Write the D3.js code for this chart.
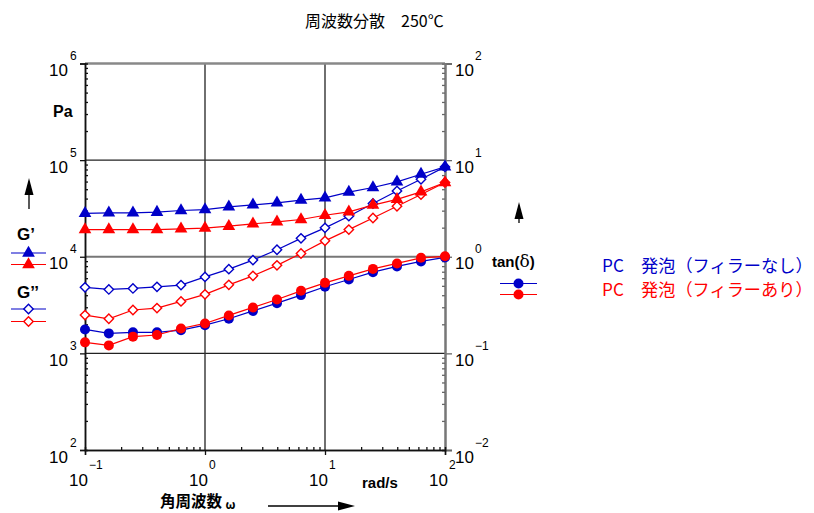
<!DOCTYPE html>
<html>
<head>
<meta charset="utf-8">
<script src="https://cdn.jsdelivr.net/npm/d3@7"></script>
<style>
  body { margin: 0; background: #fff; }
  svg text { font-family: "Liberation Sans", Arial, sans-serif; }
  .jp { font-family: "Noto Sans CJK JP", sans-serif; }
</style>
</head>
<body>
<svg id="chart" width="814" height="513"></svg>
<script>
// angular frequency (rad/s), 5 points per decade
const omega = [0.1, 0.158, 0.251, 0.398, 0.631, 1, 1.58, 2.51, 3.98, 6.31, 10, 15.8, 25.1, 39.8, 63.1, 100];

// PC foam, no filler (blue)
const gp_blue  = [2.81e4, 2.84e4, 2.84e4, 2.89e4, 3.01e4, 3.08e4, 3.28e4, 3.44e4, 3.61e4, 3.85e4, 4.06e4, 4.66e4, 5.21e4, 5.96e4, 7.15e4, 8.51e4];
const gpp_blue = [4.82e3, 4.59e3, 4.70e3, 4.88e3, 5.09e3, 6.19e3, 7.44e3, 9.23e3, 1.18e4, 1.55e4, 1.99e4, 2.63e4, 3.56e4, 4.80e4, 6.34e4, 8.51e4];
const tan_blue = [0.177, 0.161, 0.165, 0.165, 0.174, 0.196, 0.228, 0.275, 0.331, 0.401, 0.489, 0.582, 0.693, 0.794, 0.894, 0.984];

// PC foam, with filler (red)
const gp_red   = [1.91e4, 1.91e4, 1.91e4, 1.91e4, 1.94e4, 1.98e4, 2.07e4, 2.19e4, 2.30e4, 2.43e4, 2.69e4, 2.91e4, 3.42e4, 3.92e4, 4.69e4, 5.86e4];
const gpp_red  = [2.49e3, 2.28e3, 2.81e3, 2.94e3, 3.45e3, 4.08e3, 5.12e3, 6.34e3, 8.15e3, 1.08e4, 1.46e4, 1.91e4, 2.52e4, 3.33e4, 4.41e4, 5.86e4];
const tan_red  = [0.130, 0.121, 0.149, 0.155, 0.181, 0.204, 0.247, 0.299, 0.361, 0.444, 0.537, 0.634, 0.749, 0.853, 0.975, 1.01];

const xDecades = [-1, 0, 1, 2];
const yLeftDecades = [2, 3, 4, 5, 6];
const yRightDecades = [-2, -1, 0, 1, 2];

const legendNames = ["PC\u3000発泡（フィラーなし）", "PC\u3000発泡（フィラーあり）"];
const BLUE = "#0000c8", RED = "#ff0000";

const svg = d3.select("#chart");
const L = 85, R = 445, T = 63.5, B = 450;

let x = d3.scaleLog().domain([0.1, 100]).range([L, R]);
let yL = d3.scaleLog().domain([1e2, 1e6]).range([B, T]);
let yR = d3.scaleLog().domain([1e-2, 1e2]).range([B, T]);

// minor tick values
function minors(lo, hi) {
    let out = [];
    for (let d = lo; d < hi; d++) for (let m = 2; m <= 9; m++) out.push(m * Math.pow(10, d));
    return out;
}

// grid lines
let grid = svg.append("g");
[1e3, 1e4, 1e5].forEach(v => {
    grid.append("line").attr("x1", L).attr("x2", R).attr("y1", yL(v)).attr("y2", yL(v))
        .attr("stroke", v === 1e4 ? "#777" : "#222").attr("stroke-width", v === 1e4 ? 2 : 1.4);
});
[1, 10].forEach(v => {
    grid.append("line").attr("x1", x(v)).attr("x2", x(v)).attr("y1", T).attr("y2", B)
        .attr("stroke", "#333").attr("stroke-width", 1.4);
});
// top frame
grid.append("line").attr("x1", L).attr("x2", R).attr("y1", T).attr("y2", T)
    .attr("stroke", "#888").attr("stroke-width", 2.5);

// left axis
let leftMajor = d3.axisLeft(yL).tickValues(yLeftDecades.map(d => Math.pow(10, d))).tickSize(5).tickFormat("");
let leftMinor = d3.axisLeft(yL).tickValues(minors(2, 6)).tickSize(-3).tickFormat("");
let gl = svg.append("g").attr("transform", `translate(${L},0)`);
gl.call(leftMajor); gl.append("g").call(leftMinor);
gl.selectAll("path").attr("stroke", "#111").attr("stroke-width", 1.5);
gl.selectAll("line").attr("stroke", "#111").attr("stroke-width", 1.3);

// right axis
let rightMajor = d3.axisRight(yR).tickValues(yRightDecades.map(d => Math.pow(10, d))).tickSize(7).tickFormat("");
let rightMinor = d3.axisRight(yR).tickValues(minors(-2, 2)).tickSize(-3).tickFormat("");
let gr = svg.append("g").attr("transform", `translate(${R},0)`);
gr.call(rightMajor); gr.append("g").call(rightMinor);
gr.selectAll("path").attr("stroke", "#777").attr("stroke-width", 2);
gr.selectAll("line").attr("stroke", "#666").attr("stroke-width", 1.3);

// bottom axis
let botMajor = d3.axisBottom(x).tickValues(xDecades.map(d => Math.pow(10, d))).tickSize(5).tickFormat("");
let botMinor = d3.axisBottom(x).tickValues(minors(-1, 2)).tickSize(-3).tickFormat("");
let gb = svg.append("g").attr("transform", `translate(0,${B})`);
gb.call(botMajor); gb.append("g").call(botMinor);
gb.selectAll("path").attr("stroke", "#111").attr("stroke-width", 1.5);
gb.selectAll("line").attr("stroke", "#111").attr("stroke-width", 1.3);

function expLabel(g, tx, ty, ex, ey, exp, anchor) {
    g.append("text").attr("x", tx).attr("y", ty).attr("text-anchor", anchor)
        .attr("font-size", 17).text("10");
    g.append("text").attr("x", ex).attr("y", ey).attr("font-size", 12)
        .text(exp < 0 ? "\u2212" + (-exp) : String(exp));
}
let labels = svg.append("g").attr("fill", "#000");
yLeftDecades.forEach(d => {
    let yy = yL(Math.pow(10, d));
    expLabel(labels, 68, yy + 12.5, 70, yy - 3.5, d, "end");
});
yRightDecades.forEach(d => {
    let yy = yR(Math.pow(10, d));
    expLabel(labels, 455, yy + 12.5, 475, yy - 3.5, d, "start");
});
xDecades.forEach(d => {
    let xx = x(Math.pow(10, d));
    expLabel(labels, xx + 3, 486, xx + 4, 469, d, "end");
});

// marker shapes
const tri = d3.symbol().type(d3.symbolTriangle).size(70);
const dia = d3.symbol().type(d3.symbolSquare).size(44);

function drawSeries(vals, yScale, color, kind) {
    let pts = omega.map((w, i) => [x(w), yScale(vals[i])]);
    let g = svg.append("g");
    g.append("path").attr("d", d3.line()(pts)).attr("fill", "none")
        .attr("stroke", color).attr("stroke-width", 1.2);
    pts.forEach(p => drawMarker(g, p[0], p[1], color, kind));
}
function drawMarker(g, px, py, color, kind) {
    if (kind === "tri") {
        g.append("path").attr("d", tri).attr("transform", `translate(${px},${py})`).attr("fill", color);
    } else if (kind === "dia") {
        g.append("path").attr("d", dia).attr("transform", `translate(${px},${py}) rotate(45)`)
            .attr("fill", "#fff").attr("stroke", color).attr("stroke-width", 1.4);
    } else {
        g.append("circle").attr("cx", px).attr("cy", py).attr("r", 5).attr("fill", color);
    }
}

drawSeries(gpp_red, yL, RED, "dia");
drawSeries(gpp_blue, yL, BLUE, "dia");
drawSeries(tan_blue, yR, BLUE, "dot");
drawSeries(tan_red, yR, RED, "dot");
drawSeries(gp_red, yL, RED, "tri");
drawSeries(gp_blue, yL, BLUE, "tri");

// left legend
function legendLine(x1, x2, yy, color, kind) {
    let g = svg.append("g");
    g.append("line").attr("x1", x1).attr("x2", x2).attr("y1", yy).attr("y2", yy)
        .attr("stroke", color).attr("stroke-width", 1.2);
    drawMarker(g, (x1 + x2) / 2, yy, color, kind);
}
svg.append("text").attr("x", 17).attr("y", 240).attr("font-size", 17).attr("font-weight", "bold").text("G’");
legendLine(11, 46, 253, BLUE, "tri");
legendLine(11, 46, 264.5, RED, "tri");
svg.append("text").attr("x", 17).attr("y", 298).attr("font-size", 17).attr("font-weight", "bold").text("G’’");
legendLine(11, 46, 309, BLUE, "dia");
legendLine(11, 46, 321.5, RED, "dia");

svg.append("text").attr("x", 53).attr("y", 117).attr("font-size", 16).attr("font-weight", "bold").text("Pa");

// arrows
function arrow(x1, y1, x2, y2) {
    let g = svg.append("g");
    let ang = Math.atan2(y2 - y1, x2 - x1);
    let hl = 17, hw = 4.5;
    let bx = x2 - hl * Math.cos(ang), by = y2 - hl * Math.sin(ang);
    g.append("line").attr("x1", x1).attr("y1", y1).attr("x2", bx).attr("y2", by)
        .attr("stroke", "#000").attr("stroke-width", 1.3);
    let px = -Math.sin(ang) * hw, py = Math.cos(ang) * hw;
    g.append("path").attr("d", `M${x2},${y2}L${bx + px},${by + py}L${bx - px},${by - py}Z`).attr("fill", "#000");
}
arrow(29, 209, 29, 178);
arrow(519, 223, 519, 202);
arrow(268, 506, 355, 506);

// tan(delta) legend
let td = svg.append("text").attr("x", 492).attr("y", 267).attr("font-size", 15).attr("font-weight", "bold");
td.append("tspan").text("tan(");
td.append("tspan").attr("font-weight", "normal").attr("font-family", "DejaVu Serif").attr("font-size", 17).text("δ");
td.append("tspan").text(")");
legendLine(500, 537, 283.5, BLUE, "dot");
legendLine(500, 537, 294.5, RED, "dot");

// series names
svg.append("text").attr("class", "jp").attr("x", 602).attr("y", 272).attr("font-size", 17.2)
    .attr("fill", BLUE).text(legendNames[0]);
svg.append("text").attr("class", "jp").attr("x", 602).attr("y", 296).attr("font-size", 17.2)
    .attr("fill", RED).text(legendNames[1]);

// title and axis titles
svg.append("text").attr("class", "jp").attr("x", 305).attr("y", 27).attr("font-size", 16)
    .text("周波数分散\u3000250℃");
svg.append("text").attr("x", 362).attr("y", 488).attr("font-size", 15).attr("font-weight", "bold")
    .text("rad/s");
let xt = svg.append("text").attr("class", "jp").attr("x", 160).attr("y", 507)
    .attr("font-size", 15.5).attr("font-weight", "bold");
xt.append("tspan").text("角周波数 ");
xt.append("tspan").attr("font-size", 12).attr("dy", 2).text("ω");
</script>
</body>
</html>
